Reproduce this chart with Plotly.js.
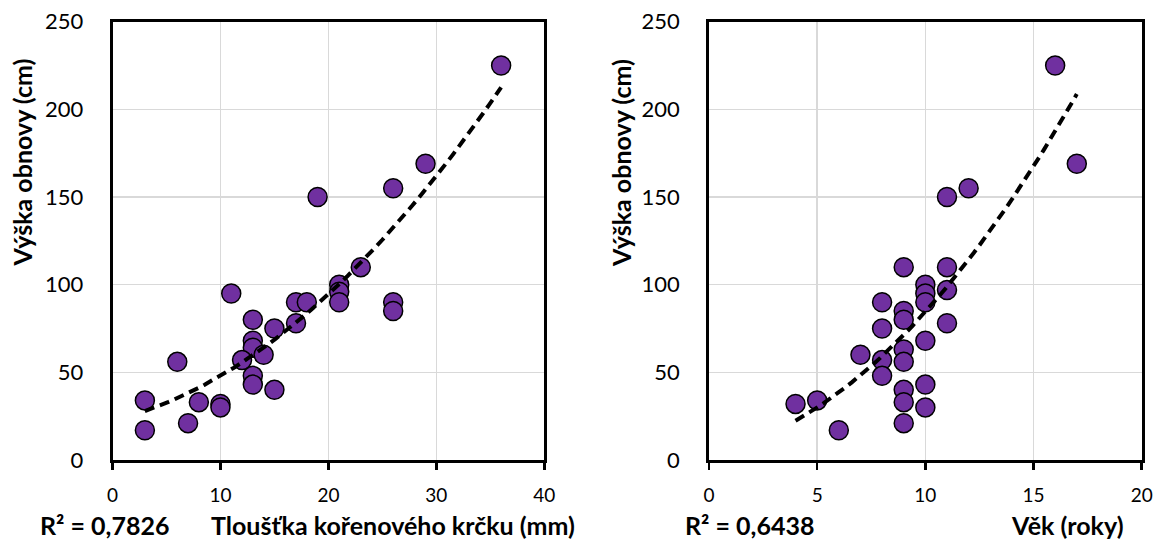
<!DOCTYPE html>
<html>
<head>
<meta charset="utf-8">
<script src="https://cdn.plot.ly/plotly-3.0.1.min.js"></script>
<style>html,body{margin:0;padding:0;background:#fff;}#chart{width:1160px;height:539px;}</style>
</head>
<body>
<div id="chart"></div>
<script>
// Left panel: root-collar thickness (mm) vs regeneration height (cm)
const thickness = [36, 29, 26, 19, 23, 21, 21, 21, 26, 26, 11, 17, 18, 17, 13, 15, 13, 13, 14, 12, 6, 13, 13, 15, 3, 8, 10, 10, 7, 3];
const heightA   = [225, 169, 155, 150, 110, 100, 96, 90, 90, 85, 95, 90, 90, 78, 80, 75, 68, 64, 60, 57, 56, 48, 43, 40, 34, 33, 32, 30, 21, 17];
// Right panel: age (years) vs regeneration height (cm)
const age       = [16, 17, 12, 11, 9, 11, 10, 10, 10, 11, 8, 9, 9, 11, 8, 10, 7, 9, 8, 9, 8, 10, 9, 9, 10, 4, 5, 6, 9];
const heightB   = [225, 169, 155, 150, 110, 110, 100, 95, 90, 97, 90, 85, 80, 78, 75, 68, 60, 63, 57, 56, 48, 43, 40, 33, 30, 32, 34, 17, 21];
// Trendline coefficients: y = c2*x^2 + c1*x + c0
const trendCoefA = [0.105, 1.5, 22.5];
const trendCoefB = [0.5687, 2.388, 3.75];
const r2Labels  = ["R² = 0,7826", "R² = 0,6438"];
const xTitles   = ["Tloušťka kořenového krčku (mm)", "Věk (roky)"];
const yTitle    = "Výška obnovy (cm)";

function trendCurve(xs, coef) {
  const x0 = Math.min(...xs), x1 = Math.max(...xs);
  const tx = [], ty = [];
  const steps = 60;
  for (let k = 0; k <= steps; k++) {
    const x = x0 + (x1 - x0) * k / steps;
    tx.push(x); ty.push(coef[0] * x * x + coef[1] * x + coef[2]);
  }
  return {x: tx, y: ty};
}

const FONT = "Lato, 'Open Sans', sans-serif";
const purple = "#7030A0";
const fitA = trendCurve(thickness, trendCoefA);
const fitB = trendCurve(age, trendCoefB);

function pts(x, y, xa, ya) {
  return {x: x, y: y, xaxis: xa, yaxis: ya, type: "scatter", mode: "markers",
    marker: {size: 19, color: purple, line: {color: "#000", width: 1.5}},
    hoverinfo: "x+y", showlegend: false};
}
function trend(f, xa, ya) {
  return {x: f.x, y: f.y, xaxis: xa, yaxis: ya, type: "scatter", mode: "lines",
    line: {color: "#000", width: 4, dash: "10px,6px"}, hoverinfo: "skip", showlegend: false};
}

const data = [
  pts(thickness, heightA, "x", "y"), trend(fitA, "x", "y"),
  pts(age, heightB, "x2", "y2"), trend(fitB, "x2", "y2")
];

const yDom = [1 - 460 / 539, 1 - 21.7 / 539];
function xaxis(dom, range, dtick, anchor) {
  return {domain: dom, range: range, dtick: dtick, tick0: 0, anchor: anchor,
    showgrid: true, gridcolor: "#d9d9d9", gridwidth: 1.5, zeroline: false,
    showline: true, linecolor: "#000", linewidth: 2.8, mirror: true,
    ticks: "outside", ticklen: 7, tickwidth: 2.5, tickcolor: "#000",
    ticklabelstandoff: 9,
    tickfont: {family: FONT, size: 19, color: "#000"}, fixedrange: true};
}
function yaxis(range, anchor) {
  return {domain: yDom, range: range, dtick: 50, tick0: 0, anchor: anchor,
    showgrid: true, gridcolor: "#d9d9d9", gridwidth: 1.5, zeroline: false,
    showline: true, linecolor: "#000", linewidth: 2.8, mirror: true,
    ticks: "", ticklabelstandoff: 22,
    tickfont: {family: FONT, size: 22, color: "#000"}, fixedrange: true};
}

const bold = {family: FONT, size: 25, color: "#000", weight: "bold"};
function ann(text, x, y, rot) {
  return {text: "<b>" + text + "</b>", xref: "paper", yref: "paper",
    x: x / 1160, y: 1 - y / 539, xanchor: "center", yanchor: "middle",
    showarrow: false, font: bold, textangle: rot || 0};
}

const layout = {
  width: 1160, height: 539,
  margin: {l: 0, r: 0, t: 0, b: 0},
  paper_bgcolor: "#fff", plot_bgcolor: "#fff",
  font: {family: FONT, color: "#000"},
  showlegend: false,
  xaxis: xaxis([112.5 / 1160, 544.3 / 1160], [0, 40], 10, "y"),
  yaxis: yaxis([0, 250], "x"),
  xaxis2: xaxis([709 / 1160, 1141.7 / 1160], [0, 20], 5, "y2"),
  yaxis2: yaxis([0, 250], "x2"),
  annotations: [
    ann(r2Labels[0], 104, 525),
    ann(xTitles[0], 393, 525),
    ann(r2Labels[1], 749, 525),
    ann(xTitles[1], 1067, 525),
    ann(yTitle, 21.5, 163, -90),
    ann(yTitle, 621, 163, -90)
  ]
};

Plotly.newPlot("chart", data, layout, {displayModeBar: false, staticPlot: true});
</script>
</body>
</html>
